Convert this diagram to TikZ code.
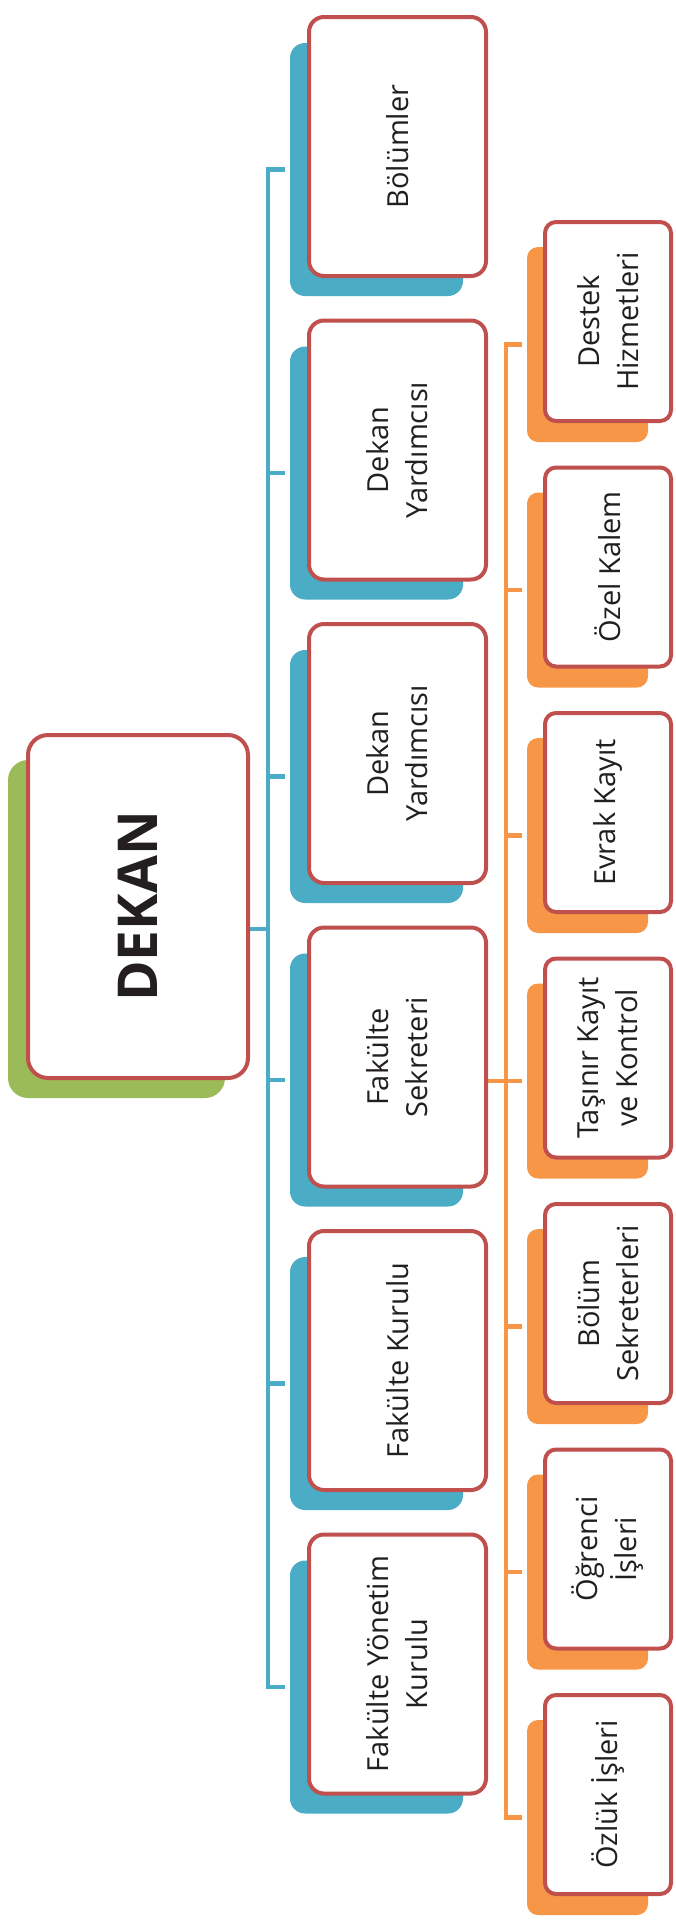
\documentclass[tikz,border=0pt]{standalone}
\usepackage{fontspec}
\setmainfont{Open Sans}
\usetikzlibrary{calc,backgrounds}
\definecolor{cblue}{HTML}{4BACC6}
\definecolor{cgreen}{HTML}{9BBB59}
\definecolor{corange}{HTML}{F79646}
\definecolor{cred}{HTML}{C0504D}
\definecolor{ctext}{HTML}{231F20}
\tikzset{
  frontbox/.style={draw=cred, fill=white, line width=4pt, rotate=90, align=center, inner sep=0pt, text=ctext},
  bluebox/.style={frontbox, rounded corners=15pt, minimum width=259pt, minimum height=177pt, font=\fontsize{29}{39}\selectfont},
  orangebox/.style={frontbox, rounded corners=11pt, minimum width=199pt, minimum height=126pt, font=\fontsize{29}{39}\selectfont},
  dekanbox/.style={frontbox, rounded corners=20pt, minimum width=343pt, minimum height=220pt, font=\fontsize{55}{60}\selectfont\bfseries},
  blueline/.style={draw=cblue, line width=4.5pt},
  orangeline/.style={draw=corange, line width=4.5pt},
}
\begin{document}
\begin{tikzpicture}[x=1pt,y=-1pt]
\useasboundingbox (0,0) rectangle (675,1922);
% front boxes
\node[dekanbox] (dekan) at (138,906.5) {DEKAN};
\node[bluebox] (b0) at (397.5,146.5) {Bölümler};
\node[bluebox] (b1) at (397.5,450) {Dekan\\Yardımcısı};
\node[bluebox] (b2) at (397.5,753.5) {Dekan\\Yardımcısı};
\node[bluebox] (b3) at (397.5,1057) {Fakülte\\Sekreteri};
\node[bluebox] (b4) at (397.5,1360.5) {Fakülte Kurulu};
\node[bluebox] (b5) at (397.5,1664) {Fakülte Yönetim\\Kurulu};
\node[orangebox] (o0) at (608,321.5) {Destek\\Hizmetleri};
\node[orangebox] (o1) at (608,567) {Özel Kalem};
\node[orangebox] (o2) at (608,812.5) {Evrak Kayıt};
\node[orangebox] (o3) at (608,1058) {Taşınır Kayıt\\ve Kontrol};
\node[orangebox] (o4) at (608,1303.5) {Bölüm\\Sekreterleri};
\node[orangebox] (o5) at (608,1549) {Öğrenci\\İşleri};
\node[orangebox] (o6) at (608,1794.5) {Özlük İşleri};
% junction coordinates
\coordinate (bjd) at (268,929);
\foreach \k/\y in {0/169.5,1/473,2/776.5,3/1080,4/1383.5,5/1687}{
  \coordinate (bj\k) at (268,\y);
  \coordinate (bt\k) at (285,\y);
}
\foreach \k/\y in {0/344.5,1/590,2/835.5,3/1081,4/1326.5,5/1572,6/1817.5}{
  \coordinate (oj\k) at (506,\y);
  \coordinate (ot\k) at (522,\y);
}
\begin{scope}[on background layer]
  % shadows
  \fill[cgreen, rounded corners=20pt] (8,760) rectangle (225,1098);
  \foreach \k in {0,...,5}{
    \fill[cblue, rounded corners=15pt] (290,43+303.5*\k) rectangle (463,296+303.5*\k);
  }
  \foreach \k in {0,...,6}{
    \fill[corange, rounded corners=11pt] (527,247+245.5*\k) rectangle (648,442+245.5*\k);
  }
  % blue connectors
  \draw[blueline] (dekan.south |- bjd) -- (bjd);
  \draw[blueline] (bt0) -- (bj0) -- (bj5) -- (bt5);
  \foreach \k in {1,...,4}{ \draw[blueline] (bj\k) -- (bt\k); }
  % orange connectors
  \draw[orangeline] (b3.south |- ot3) -- (ot3);
  \draw[orangeline] (ot0) -- (oj0) -- (oj6) -- (ot6);
  \foreach \k in {1,...,5}{ \draw[orangeline] (oj\k) -- (ot\k); }
\end{scope}
\end{tikzpicture}
\end{document}
